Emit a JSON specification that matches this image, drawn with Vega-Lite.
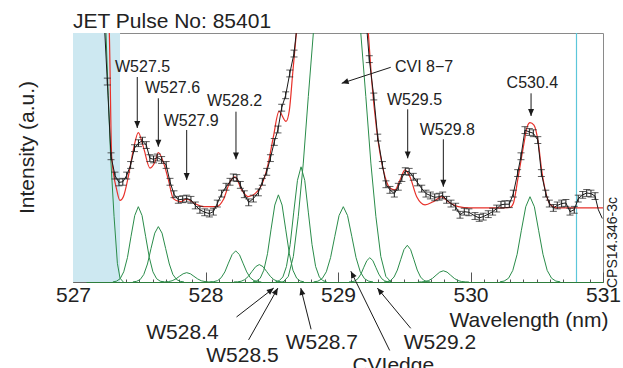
{
"$schema": "https://vega.github.io/schema/vega-lite/v6.json",
"width": 530, "height": 249,
"autosize": {"type": "none"},
"padding": {"left": 73, "top": 33, "right": 20, "bottom": 86},
"title": {"text": "JET Pulse No: 85401", "anchor": "start", "frame": "group", "fontSize": 21, "font": "Liberation Sans", "fontWeight": "normal", "color": "#222", "baseline": "alphabetic", "offset": 6, "dy": 23},
"config": {"view": {"stroke": "#8a8a8a", "strokeWidth": 1}, "font": "Liberation Sans"},
"resolve": {"axis": {"x": "independent", "y": "independent"}},
"datasets": {
"obs": [
{"x":527.226,"y":4.6,"e":0.055},{"x":527.259,"y":3.22,"e":0.055},{"x":527.287,"y":2.02,"e":0.055},{"x":527.317,"y":1.71,"e":0.055},{"x":527.347,"y":1.60,"e":0.055},{"x":527.376,"y":1.61,"e":0.055},{"x":527.405,"y":1.71,"e":0.055},{"x":527.435,"y":1.88,"e":0.055},{"x":527.464,"y":2.15,"e":0.055},{"x":527.494,"y":2.23,"e":0.055},{"x":527.524,"y":2.27,"e":0.055},{"x":527.553,"y":2.20,"e":0.055},{"x":527.580,"y":1.99,"e":0.055},{"x":527.608,"y":1.97,"e":0.055},{"x":527.636,"y":2.00,"e":0.055},{"x":527.669,"y":1.96,"e":0.055},{"x":527.703,"y":1.88,"e":0.055},{"x":527.732,"y":1.61,"e":0.055},{"x":527.762,"y":1.41,"e":0.055},{"x":527.795,"y":1.32,"e":0.055},{"x":527.828,"y":1.33,"e":0.055},{"x":527.858,"y":1.34,"e":0.055},{"x":527.890,"y":1.32,"e":0.055},{"x":527.923,"y":1.23,"e":0.055},{"x":527.958,"y":1.16,"e":0.055},{"x":527.994,"y":1.12,"e":0.055},{"x":528.029,"y":1.10,"e":0.055},{"x":528.059,"y":1.13,"e":0.055},{"x":528.089,"y":1.26,"e":0.055},{"x":528.122,"y":1.42,"e":0.055},{"x":528.155,"y":1.53,"e":0.055},{"x":528.185,"y":1.61,"e":0.055},{"x":528.210,"y":1.68,"e":0.055},{"x":528.237,"y":1.67,"e":0.055},{"x":528.263,"y":1.56,"e":0.055},{"x":528.293,"y":1.41,"e":0.055},{"x":528.326,"y":1.28,"e":0.055},{"x":528.361,"y":1.34,"e":0.055},{"x":528.399,"y":1.44,"e":0.055},{"x":528.429,"y":1.61,"e":0.055},{"x":528.462,"y":1.77,"e":0.055},{"x":528.490,"y":1.99,"e":0.055},{"x":528.519,"y":2.25,"e":0.055},{"x":528.547,"y":2.45,"e":0.055},{"x":528.575,"y":2.80,"e":0.055},{"x":528.605,"y":3.00,"e":0.055},{"x":528.636,"y":3.35,"e":0.055},{"x":528.668,"y":3.67,"e":0.055},{"x":528.700,"y":4.3,"e":0.055},{"x":528.760,"y":5.6,"e":0.055},{"x":528.850,"y":7.2,"e":0.055},{"x":528.950,"y":7.9,"e":0.055},{"x":529.050,"y":7.7,"e":0.055},{"x":529.150,"y":5.6,"e":0.055},{"x":529.205,"y":4.4,"e":0.055},{"x":529.236,"y":3.58,"e":0.055},{"x":529.270,"y":2.98,"e":0.055},{"x":529.300,"y":2.32,"e":0.055},{"x":529.335,"y":1.88,"e":0.055},{"x":529.362,"y":1.57,"e":0.055},{"x":529.392,"y":1.48,"e":0.055},{"x":529.425,"y":1.42,"e":0.055},{"x":529.455,"y":1.53,"e":0.055},{"x":529.482,"y":1.67,"e":0.055},{"x":529.508,"y":1.78,"e":0.055},{"x":529.537,"y":1.77,"e":0.055},{"x":529.568,"y":1.69,"e":0.055},{"x":529.599,"y":1.60,"e":0.055},{"x":529.632,"y":1.50,"e":0.055},{"x":529.664,"y":1.42,"e":0.055},{"x":529.697,"y":1.39,"e":0.055},{"x":529.730,"y":1.36,"e":0.055},{"x":529.763,"y":1.37,"e":0.055},{"x":529.790,"y":1.39,"e":0.055},{"x":529.820,"y":1.32,"e":0.055},{"x":529.853,"y":1.26,"e":0.055},{"x":529.888,"y":1.21,"e":0.055},{"x":529.921,"y":1.08,"e":0.055},{"x":529.953,"y":1.13,"e":0.055},{"x":529.988,"y":1.12,"e":0.055},{"x":530.034,"y":1.06,"e":0.055},{"x":530.066,"y":1.03,"e":0.055},{"x":530.096,"y":1.05,"e":0.055},{"x":530.134,"y":1.09,"e":0.055},{"x":530.167,"y":1.13,"e":0.055},{"x":530.198,"y":1.18,"e":0.055},{"x":530.230,"y":1.24,"e":0.055},{"x":530.260,"y":1.25,"e":0.055},{"x":530.293,"y":1.25,"e":0.055},{"x":530.323,"y":1.42,"e":0.055},{"x":530.356,"y":1.75,"e":0.055},{"x":530.381,"y":2.02,"e":0.055},{"x":530.411,"y":2.44,"e":0.055},{"x":530.444,"y":2.41,"e":0.055},{"x":530.474,"y":2.39,"e":0.055},{"x":530.508,"y":2.28,"e":0.055},{"x":530.535,"y":1.75,"e":0.055},{"x":530.568,"y":1.42,"e":0.055},{"x":530.595,"y":1.26,"e":0.055},{"x":530.625,"y":1.19,"e":0.055},{"x":530.655,"y":1.23,"e":0.055},{"x":530.688,"y":1.26,"e":0.055},{"x":530.720,"y":1.27,"e":0.055},{"x":530.751,"y":1.13,"e":0.055},{"x":530.783,"y":1.16,"e":0.055},{"x":530.813,"y":1.34,"e":0.055},{"x":530.847,"y":1.40,"e":0.055},{"x":530.877,"y":1.43,"e":0.055},{"x":530.909,"y":1.42,"e":0.055},{"x":530.940,"y":1.38,"e":0.055},{"x":530.965,"y":1.16,"e":0},{"x":530.995,"y":1.02,"e":0}
],
"fit": [
{"x":527.255,"y":4.6},{"x":527.274,"y":4.0},{"x":527.292,"y":2.01},{"x":527.330,"y":1.48},{"x":527.355,"y":1.31},{"x":527.380,"y":1.37},{"x":527.417,"y":1.69},{"x":527.455,"y":2.12},{"x":527.493,"y":2.40},{"x":527.531,"y":2.17},{"x":527.581,"y":1.83},{"x":527.619,"y":1.93},{"x":527.644,"y":2.08},{"x":527.681,"y":1.93},{"x":527.720,"y":1.64},{"x":527.757,"y":1.34},{"x":527.808,"y":1.29},{"x":527.858,"y":1.33},{"x":527.920,"y":1.26},{"x":527.983,"y":1.21},{"x":528.034,"y":1.21},{"x":528.085,"y":1.21},{"x":528.134,"y":1.32},{"x":528.185,"y":1.61},{"x":528.223,"y":1.69},{"x":528.273,"y":1.48},{"x":528.323,"y":1.37},{"x":528.374,"y":1.42},{"x":528.424,"y":1.56},{"x":528.474,"y":1.91},{"x":528.512,"y":2.33},{"x":528.555,"y":2.74},{"x":528.608,"y":2.58},{"x":528.633,"y":2.76},{"x":528.658,"y":3.35},{"x":528.688,"y":4.05},{"x":528.75,"y":5.5},{"x":528.85,"y":7.2},{"x":528.95,"y":8.0},{"x":529.05,"y":7.8},{"x":529.15,"y":5.5},{"x":529.229,"y":4.0},{"x":529.254,"y":3.24},{"x":529.292,"y":2.44},{"x":529.342,"y":1.80},{"x":529.392,"y":1.51},{"x":529.430,"y":1.48},{"x":529.468,"y":1.64},{"x":529.506,"y":1.80},{"x":529.543,"y":1.69},{"x":529.594,"y":1.37},{"x":529.657,"y":1.24},{"x":529.719,"y":1.29},{"x":529.783,"y":1.37},{"x":529.833,"y":1.29},{"x":529.908,"y":1.21},{"x":529.996,"y":1.19},{"x":530.100,"y":1.19},{"x":530.200,"y":1.19},{"x":530.300,"y":1.20},{"x":530.323,"y":1.26},{"x":530.360,"y":1.69},{"x":530.399,"y":2.17},{"x":530.429,"y":2.50},{"x":530.449,"y":2.56},{"x":530.479,"y":2.52},{"x":530.512,"y":2.23},{"x":530.537,"y":1.80},{"x":530.570,"y":1.42},{"x":530.600,"y":1.25},{"x":530.650,"y":1.19},{"x":531.000,"y":1.19}
],
"comp": [
{"c":"L0","x":527.20,"y":6.0},{"c":"L0","x":527.249,"y":4.0},{"c":"L0","x":527.266,"y":3.0},{"c":"L0","x":527.284,"y":2.01},{"c":"L0","x":527.31,"y":1.05},{"c":"L0","x":527.335,"y":0.30},{"c":"L0","x":527.355,"y":0.06},{"c":"L0","x":527.38,"y":0.0},
{"c":"W527.5","x":527.301,"y":0.002},{"c":"W527.5","x":527.328,"y":0.013},{"c":"W527.5","x":527.356,"y":0.053},{"c":"W527.5","x":527.383,"y":0.164},{"c":"W527.5","x":527.411,"y":0.393},{"c":"W527.5","x":527.438,"y":0.734},{"c":"W527.5","x":527.466,"y":1.068},{"c":"W527.5","x":527.493,"y":1.21},{"c":"W527.5","x":527.521,"y":1.068},{"c":"W527.5","x":527.548,"y":0.734},{"c":"W527.5","x":527.576,"y":0.393},{"c":"W527.5","x":527.603,"y":0.164},{"c":"W527.5","x":527.631,"y":0.053},{"c":"W527.5","x":527.658,"y":0.013},{"c":"W527.5","x":527.686,"y":0.002},
{"c":"W527.6","x":527.452,"y":0.002},{"c":"W527.6","x":527.479,"y":0.010},{"c":"W527.6","x":527.507,"y":0.039},{"c":"W527.6","x":527.534,"y":0.120},{"c":"W527.6","x":527.562,"y":0.289},{"c":"W527.6","x":527.589,"y":0.540},{"c":"W527.6","x":527.617,"y":0.785},{"c":"W527.6","x":527.644,"y":0.89},{"c":"W527.6","x":527.672,"y":0.785},{"c":"W527.6","x":527.699,"y":0.540},{"c":"W527.6","x":527.727,"y":0.289},{"c":"W527.6","x":527.754,"y":0.120},{"c":"W527.6","x":527.782,"y":0.039},{"c":"W527.6","x":527.809,"y":0.010},{"c":"W527.6","x":527.837,"y":0.002},
{"c":"W527.9","x":527.666,"y":0.0},{"c":"W527.9","x":527.693,"y":0.002},{"c":"W527.9","x":527.721,"y":0.007},{"c":"W527.9","x":527.748,"y":0.020},{"c":"W527.9","x":527.776,"y":0.049},{"c":"W527.9","x":527.803,"y":0.091},{"c":"W527.9","x":527.831,"y":0.132},{"c":"W527.9","x":527.858,"y":0.15},{"c":"W527.9","x":527.886,"y":0.132},{"c":"W527.9","x":527.913,"y":0.091},{"c":"W527.9","x":527.941,"y":0.049},{"c":"W527.9","x":527.968,"y":0.020},{"c":"W527.9","x":527.996,"y":0.007},{"c":"W527.9","x":528.023,"y":0.002},{"c":"W527.9","x":528.051,"y":0.0},
{"c":"W528.2","x":528.036,"y":0.001},{"c":"W528.2","x":528.063,"y":0.006},{"c":"W528.2","x":528.091,"y":0.022},{"c":"W528.2","x":528.118,"y":0.068},{"c":"W528.2","x":528.146,"y":0.162},{"c":"W528.2","x":528.173,"y":0.303},{"c":"W528.2","x":528.201,"y":0.441},{"c":"W528.2","x":528.228,"y":0.50},{"c":"W528.2","x":528.256,"y":0.441},{"c":"W528.2","x":528.283,"y":0.303},{"c":"W528.2","x":528.311,"y":0.162},{"c":"W528.2","x":528.338,"y":0.068},{"c":"W528.2","x":528.366,"y":0.022},{"c":"W528.2","x":528.393,"y":0.006},{"c":"W528.2","x":528.421,"y":0.001},
{"c":"W528.4","x":528.214,"y":0.001},{"c":"W528.4","x":528.241,"y":0.003},{"c":"W528.4","x":528.269,"y":0.012},{"c":"W528.4","x":528.296,"y":0.038},{"c":"W528.4","x":528.324,"y":0.091},{"c":"W528.4","x":528.351,"y":0.170},{"c":"W528.4","x":528.379,"y":0.247},{"c":"W528.4","x":528.406,"y":0.28},{"c":"W528.4","x":528.434,"y":0.247},{"c":"W528.4","x":528.461,"y":0.170},{"c":"W528.4","x":528.489,"y":0.091},{"c":"W528.4","x":528.516,"y":0.038},{"c":"W528.4","x":528.544,"y":0.012},{"c":"W528.4","x":528.571,"y":0.003},{"c":"W528.4","x":528.599,"y":0.001},
{"c":"W528.5","x":528.358,"y":0.003},{"c":"W528.5","x":528.385,"y":0.016},{"c":"W528.5","x":528.413,"y":0.061},{"c":"W528.5","x":528.44,"y":0.189},{"c":"W528.5","x":528.468,"y":0.455},{"c":"W528.5","x":528.495,"y":0.849},{"c":"W528.5","x":528.523,"y":1.236},{"c":"W528.5","x":528.55,"y":1.40},{"c":"W528.5","x":528.578,"y":1.236},{"c":"W528.5","x":528.605,"y":0.849},{"c":"W528.5","x":528.633,"y":0.455},{"c":"W528.5","x":528.66,"y":0.189},{"c":"W528.5","x":528.688,"y":0.061},{"c":"W528.5","x":528.715,"y":0.016},{"c":"W528.5","x":528.743,"y":0.003},
{"c":"W528.7","x":528.529,"y":0.004},{"c":"W528.7","x":528.556,"y":0.021},{"c":"W528.7","x":528.584,"y":0.081},{"c":"W528.7","x":528.611,"y":0.250},{"c":"W528.7","x":528.639,"y":0.601},{"c":"W528.7","x":528.666,"y":1.122},{"c":"W528.7","x":528.694,"y":1.633},{"c":"W528.7","x":528.721,"y":1.85},{"c":"W528.7","x":528.749,"y":1.633},{"c":"W528.7","x":528.776,"y":1.122},{"c":"W528.7","x":528.804,"y":0.601},{"c":"W528.7","x":528.831,"y":0.250},{"c":"W528.7","x":528.859,"y":0.081},{"c":"W528.7","x":528.886,"y":0.021},{"c":"W528.7","x":528.914,"y":0.004},
{"c":"CVI","x":528.586,"y":0.0},{"c":"CVI","x":528.625,"y":0.09},{"c":"CVI","x":528.663,"y":0.41},{"c":"CVI","x":528.70,"y":1.05},{"c":"CVI","x":528.738,"y":1.91},{"c":"CVI","x":528.776,"y":2.98},{"c":"CVI","x":528.814,"y":4.0},{"c":"CVI","x":528.85,"y":5.2},{"c":"CVI","x":528.90,"y":6.6},{"c":"CVI","x":528.95,"y":7.3},{"c":"CVI","x":528.993,"y":7.5},{"c":"CVI","x":529.036,"y":7.3},{"c":"CVI","x":529.086,"y":6.6},{"c":"CVI","x":529.136,"y":5.2},{"c":"CVI","x":529.172,"y":4.0},{"c":"CVI","x":529.21,"y":2.98},{"c":"CVI","x":529.248,"y":1.91},{"c":"CVI","x":529.286,"y":1.05},{"c":"CVI","x":529.323,"y":0.41},{"c":"CVI","x":529.361,"y":0.09},{"c":"CVI","x":529.40,"y":0.0},
{"c":"CVIedge","x":528.816,"y":0.002},{"c":"CVIedge","x":528.848,"y":0.013},{"c":"CVIedge","x":528.88,"y":0.053},{"c":"CVIedge","x":528.912,"y":0.164},{"c":"CVIedge","x":528.944,"y":0.393},{"c":"CVIedge","x":528.976,"y":0.734},{"c":"CVIedge","x":529.008,"y":1.068},{"c":"CVIedge","x":529.04,"y":1.21},{"c":"CVIedge","x":529.072,"y":1.068},{"c":"CVIedge","x":529.104,"y":0.734},{"c":"CVIedge","x":529.136,"y":0.393},{"c":"CVIedge","x":529.168,"y":0.164},{"c":"CVIedge","x":529.2,"y":0.053},{"c":"CVIedge","x":529.232,"y":0.013},{"c":"CVIedge","x":529.264,"y":0.002},
{"c":"W529.2","x":529.083,"y":0.001},{"c":"W529.2","x":529.105,"y":0.004},{"c":"W529.2","x":529.128,"y":0.017},{"c":"W529.2","x":529.15,"y":0.053},{"c":"W529.2","x":529.173,"y":0.127},{"c":"W529.2","x":529.195,"y":0.237},{"c":"W529.2","x":529.218,"y":0.344},{"c":"W529.2","x":529.24,"y":0.39},{"c":"W529.2","x":529.263,"y":0.344},{"c":"W529.2","x":529.285,"y":0.237},{"c":"W529.2","x":529.308,"y":0.127},{"c":"W529.2","x":529.33,"y":0.053},{"c":"W529.2","x":529.353,"y":0.017},{"c":"W529.2","x":529.375,"y":0.004},{"c":"W529.2","x":529.398,"y":0.001},
{"c":"W529.5","x":529.348,"y":0.001},{"c":"W529.5","x":529.373,"y":0.007},{"c":"W529.5","x":529.398,"y":0.026},{"c":"W529.5","x":529.423,"y":0.080},{"c":"W529.5","x":529.448,"y":0.192},{"c":"W529.5","x":529.473,"y":0.358},{"c":"W529.5","x":529.498,"y":0.521},{"c":"W529.5","x":529.523,"y":0.59},{"c":"W529.5","x":529.548,"y":0.521},{"c":"W529.5","x":529.573,"y":0.358},{"c":"W529.5","x":529.598,"y":0.192},{"c":"W529.5","x":529.623,"y":0.080},{"c":"W529.5","x":529.648,"y":0.026},{"c":"W529.5","x":529.673,"y":0.007},{"c":"W529.5","x":529.698,"y":0.001},
{"c":"W529.8","x":529.603,"y":0.0},{"c":"W529.8","x":529.63,"y":0.002},{"c":"W529.8","x":529.658,"y":0.008},{"c":"W529.8","x":529.685,"y":0.024},{"c":"W529.8","x":529.713,"y":0.058},{"c":"W529.8","x":529.74,"y":0.109},{"c":"W529.8","x":529.768,"y":0.159},{"c":"W529.8","x":529.795,"y":0.18},{"c":"W529.8","x":529.823,"y":0.159},{"c":"W529.8","x":529.85,"y":0.109},{"c":"W529.8","x":529.878,"y":0.058},{"c":"W529.8","x":529.905,"y":0.024},{"c":"W529.8","x":529.933,"y":0.008},{"c":"W529.8","x":529.96,"y":0.002},{"c":"W529.8","x":529.988,"y":0.0},
{"c":"C530.4","x":530.222,"y":0.003},{"c":"C530.4","x":530.254,"y":0.015},{"c":"C530.4","x":530.287,"y":0.060},{"c":"C530.4","x":530.319,"y":0.185},{"c":"C530.4","x":530.352,"y":0.445},{"c":"C530.4","x":530.384,"y":0.831},{"c":"C530.4","x":530.417,"y":1.209},{"c":"C530.4","x":530.449,"y":1.37},{"c":"C530.4","x":530.482,"y":1.209},{"c":"C530.4","x":530.514,"y":0.831},{"c":"C530.4","x":530.547,"y":0.445},{"c":"C530.4","x":530.579,"y":0.185},{"c":"C530.4","x":530.612,"y":0.060},{"c":"C530.4","x":530.644,"y":0.015},{"c":"C530.4","x":530.677,"y":0.003}
],
"ann": [
{"label":"W527.5","grp":"top","tx":527.525,"ty":3.449,"x1":527.485,"y1":3.293,"x2":527.485,"y2":2.474},
{"label":"W527.6","grp":"top","tx":527.751,"ty":3.111,"x1":527.644,"y1":2.951,"x2":527.644,"y2":2.174},
{"label":"W527.9","grp":"top","tx":527.892,"ty":2.586,"x1":527.858,"y1":2.442,"x2":527.858,"y2":1.639},
{"label":"W528.2","grp":"top","tx":528.22,"ty":2.908,"x1":528.23,"y1":2.736,"x2":528.23,"y2":1.971},
{"label":"CVI 8−7","grp":"top","tx":529.65,"ty":3.459,"x1":529.398,"y1":3.449,"x2":529.028,"y2":3.192},
{"label":"W529.5","grp":"top","tx":529.577,"ty":2.924,"x1":529.526,"y1":2.774,"x2":529.526,"y2":1.987},
{"label":"W529.8","grp":"top","tx":529.825,"ty":2.442,"x1":529.795,"y1":2.292,"x2":529.795,"y2":1.531},
{"label":"C530.4","grp":"top","tx":530.467,"ty":3.202,"x1":530.457,"y1":3.031,"x2":530.457,"y2":2.667},
{"label":"W528.4","grp":"bottom","tx":527.826,"ty":-0.819,"x1":528.234,"y1":-0.562,"x2":528.515,"y2":-0.098},
{"label":"W528.5","grp":"bottom","tx":528.279,"ty":-1.186,"x1":528.325,"y1":-0.930,"x2":528.546,"y2":-0.098},
{"label":"W528.7","grp":"bottom","tx":528.878,"ty":-0.986,"x1":528.797,"y1":-0.760,"x2":528.719,"y2":-0.098},
{"label":"CVIedge","grp":"bottom","tx":529.417,"ty":-1.356,"x1":529.39,"y1":-1.100,"x2":529.097,"y2":0.173},
{"label":"W529.2","grp":"bottom","tx":529.769,"ty":-0.986,"x1":529.549,"y1":-0.744,"x2":529.297,"y2":-0.098}
]
},
"layer": [
{"data": {"values": [{"a": 527, "b": 527.355}]},
 "mark": {"type": "rect", "color": "#cde8f1"},
 "encoding": {"x": {"field": "a", "type": "quantitative", "scale": {"domain": [527, 531], "nice": false, "zero": false},
   "axis": {"orient": "bottom", "title": null, "labels": false, "domain": false, "grid": false, "tickSize": -3, "tickColor": "#555", "tickWidth": 1,
    "values": [527.1,527.2,527.3,527.4,527.5,527.6,527.7,527.8,527.9,528.1,528.2,528.3,528.4,528.5,528.6,528.7,528.8,528.9,529.1,529.2,529.3,529.4,529.5,529.6,529.7,529.8,529.9,530.1,530.2,530.3,530.4,530.5,530.6,530.7,530.8,530.9]}},
  "x2": {"field": "b"}}},
{"data": {"values": [{"a": 530.80}]},
 "mark": {"type": "rule", "color": "#5cc6da", "strokeWidth": 1.2},
 "encoding": {"x": {"field": "a", "type": "quantitative", "scale": {"domain": [527, 531], "nice": false, "zero": false}, "axis": null}}},
{"data": {"name": "comp"},
 "mark": {"type": "line", "color": "#2a8c4a", "strokeWidth": 1, "clip": true},
 "encoding": {"x": {"field": "x", "type": "quantitative", "scale": {"domain": [527, 531], "nice": false, "zero": false}, "axis": null},
  "y": {"field": "y", "type": "quantitative", "scale": {"domain": [0, 4], "nice": false, "zero": false},
   "axis": {"orient": "left", "title": null, "labels": false, "domain": false, "grid": false, "tickSize": -7, "tickColor": "#666", "tickWidth": 1,
    "values": [0.25,0.5,0.75,1.25,1.5,1.75,2.25,2.5,2.75,3.25,3.5,3.75]}},
  "detail": {"field": "c"}}},
{"data": {"name": "fit"},
 "mark": {"type": "line", "color": "#e8312a", "strokeWidth": 1.2, "clip": true, "interpolate": "monotone"},
 "encoding": {"x": {"field": "x", "type": "quantitative", "scale": {"domain": [527, 531], "nice": false, "zero": false}, "axis": null},
  "y": {"field": "y", "type": "quantitative", "scale": {"domain": [0, 4], "nice": false, "zero": false}, "axis": null}}},
{"data": {"name": "obs"},
 "mark": {"type": "line", "color": "#1a1a1a", "strokeWidth": 1, "clip": true},
 "encoding": {
  "x": {"field": "x", "type": "quantitative", "scale": {"domain": [527, 531], "nice": false, "zero": false},
   "axis": {"orient": "bottom", "title": "Wavelength (nm)",
    "values": [527, 528, 529, 530, 531], "format": "d",
    "tickSize": -10, "labelPadding": 12, "labelFontSize": 21, "labelFont": "Liberation Sans", "labelColor": "#222",
    "labelFlush": false, "labelOverlap": false, "labelAngle": 0, "grid": false,
    "domainColor": "#2e7d3c", "domainWidth": 1.2, "tickColor": "#555", "tickWidth": 1,
    "titleFontSize": 21, "titleFont": "Liberation Sans", "titleFontWeight": "normal", "titleColor": "#222",
    "titleX": 535, "titleY": 44, "titleAlign": "right", "titleBaseline": "alphabetic"}},
  "y": {"field": "y", "type": "quantitative", "scale": {"domain": [0, 4], "nice": false, "zero": false},
   "axis": {"orient": "left", "title": "Intensity (a.u.)",
    "values": [0, 1, 2, 3, 4],
    "labels": false, "grid": false, "tickSize": -13,
    "domainColor": "#8a8a8a", "tickColor": "#666", "tickWidth": 1,
    "titleFontSize": 21, "titleFont": "Liberation Sans", "titleFontWeight": "normal", "titleColor": "#222",
    "titleAngle": -90, "titleX": -40, "titleY": 114, "titleAlign": "center", "titleBaseline": "alphabetic"}}}},
{"data": {"name": "obs"},
 "transform": [{"filter": "datum.y < 4 && datum.e > 0"}],
 "mark": {"type": "errorbar", "color": "#1a1a1a", "ticks": {"size": 7, "color": "#1a1a1a"}},
 "encoding": {"x": {"field": "x", "type": "quantitative", "scale": {"domain": [527, 531], "nice": false, "zero": false}, "axis": null},
  "y": {"field": "y", "type": "quantitative", "scale": {"domain": [0, 4], "nice": false, "zero": false}, "axis": null},
  "yError": {"field": "e"}}},
{"data": {"name": "ann"},
 "mark": {"type": "rule", "color": "#1a1a1a", "strokeWidth": 1, "clip": false},
 "encoding": {"x": {"field": "x1", "type": "quantitative", "scale": {"domain": [527, 531], "nice": false, "zero": false}, "axis": null},
  "y": {"field": "y1", "type": "quantitative", "scale": {"domain": [0, 4], "nice": false, "zero": false}, "axis": null},
  "x2": {"field": "x2"}, "y2": {"field": "y2"}}},
{"data": {"name": "ann"},
 "transform": [{"calculate": "atan2((datum.x2 - datum.x1) * 132.5, (datum.y2 - datum.y1) * 62.25) * 180 / PI", "as": "ang"}],
 "mark": {"type": "point", "shape": "M0,0L-1,2.3L1,2.3Z", "filled": true, "color": "#1a1a1a", "size": 36, "opacity": 1, "clip": false},
 "encoding": {"x": {"field": "x2", "type": "quantitative", "scale": {"domain": [527, 531], "nice": false, "zero": false}, "axis": null},
  "y": {"field": "y2", "type": "quantitative", "scale": {"domain": [0, 4], "nice": false, "zero": false}, "axis": null},
  "angle": {"field": "ang", "type": "quantitative", "scale": null}}},
{"data": {"name": "ann"},
 "transform": [{"filter": "datum.grp === 'top'"}],
 "mark": {"type": "text", "fontSize": 16, "font": "Liberation Sans", "color": "#222", "align": "center", "baseline": "middle", "clip": false},
 "encoding": {"x": {"field": "tx", "type": "quantitative", "scale": {"domain": [527, 531], "nice": false, "zero": false}, "axis": null},
  "y": {"field": "ty", "type": "quantitative", "scale": {"domain": [0, 4], "nice": false, "zero": false}, "axis": null},
  "text": {"field": "label"}}},
{"data": {"name": "ann"},
 "transform": [{"filter": "datum.grp === 'bottom'"}],
 "mark": {"type": "text", "fontSize": 21, "font": "Liberation Sans", "color": "#222", "align": "center", "baseline": "middle", "clip": false},
 "encoding": {"x": {"field": "tx", "type": "quantitative", "scale": {"domain": [527, 531], "nice": false, "zero": false}, "axis": null},
  "y": {"field": "ty", "type": "quantitative", "scale": {"domain": [0, 4], "nice": false, "zero": false}, "axis": null},
  "text": {"field": "label"}}},
{"data": {"values": [{"t": "CPS14.346-3c", "x": 531, "y": 0}]},
 "mark": {"type": "text", "fontSize": 14, "font": "Liberation Sans", "color": "#222", "angle": -90, "align": "left", "baseline": "alphabetic", "dx": -6, "dy": 14, "clip": false},
 "encoding": {"x": {"field": "x", "type": "quantitative", "scale": {"domain": [527, 531], "nice": false, "zero": false}, "axis": null},
  "y": {"field": "y", "type": "quantitative", "scale": {"domain": [0, 4], "nice": false, "zero": false}, "axis": null},
  "text": {"field": "t"}}}
]
}
